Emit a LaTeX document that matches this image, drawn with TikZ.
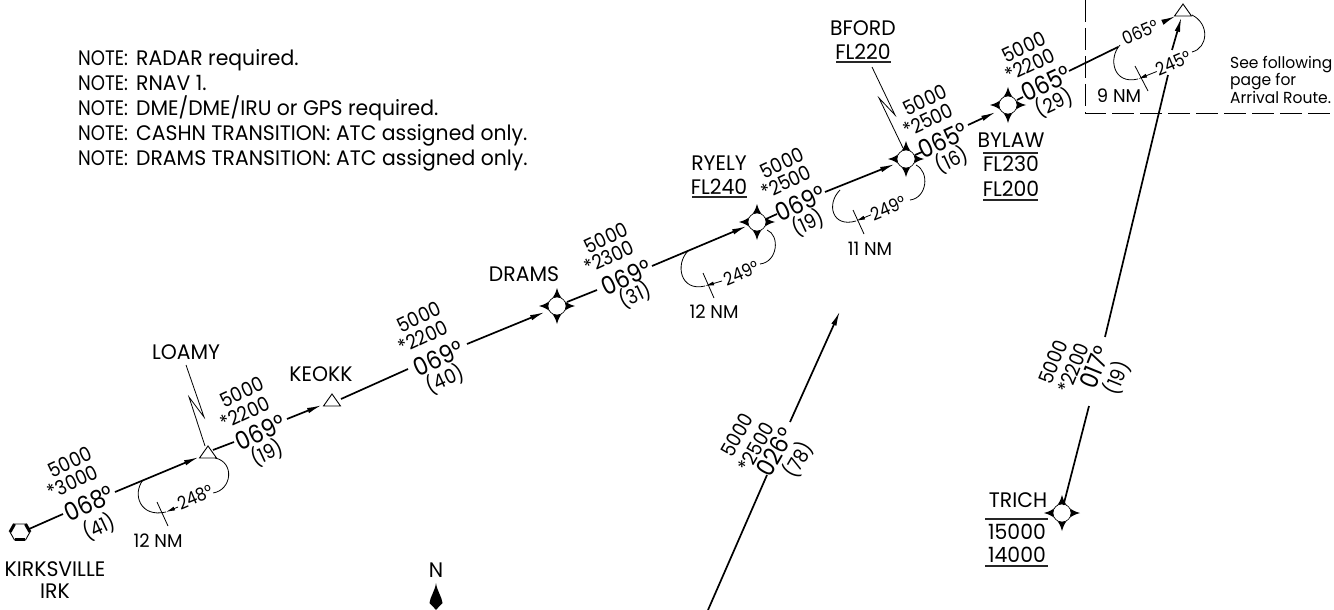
\documentclass[tikz,border=0pt]{standalone}
\usepackage{fontspec}
\setmainfont{Poppins}[FakeStretch=0.97]
\newfontfamily\digitfont{Poppins}[FakeStretch=0.9]
\newfontfamily\notefont{Poppins}[FakeStretch=0.86]
\usetikzlibrary{arrows.meta,calc}
\tikzset{
  route/.style={line width=1.7pt,line cap=butt},
  routearrow/.style={route,-{Latex[length=15pt,width=5.5pt]}},
  thinline/.style={line width=0.8pt},
  holdarrow/.style={thinline,-{Latex[length=9pt,width=4pt]}},
  lab/.style={inner sep=0pt,font=\fontsize{21}{24}\selectfont,align=center},
  alt/.style={inner sep=0pt,font=\digitfont\fontsize{20}{22}\selectfont},
  bigalt/.style={inner sep=0pt,font=\digitfont\fontsize{25}{27}\selectfont},
  small/.style={inner sep=0pt,font=\digitfont\fontsize{18}{20}\selectfont},
  dist/.style={inner sep=0pt,font=\fontsize{18.5}{20}\selectfont},
  rule/.style={line width=1.2pt,black!85},
  fixdot/.style={circle,draw,line width=0.6pt,fill=white,minimum size=18pt,inner sep=0pt},
  tri/.style={line width=0.9pt,draw,fill=white,line join=miter},
}
\newcommand\fixstar[3]{%
  \begin{scope}[shift={(#2,#3)}]
  \fill[black] (0,-18) .. controls (2.5,-8) and (8,-2.5) .. (18,0)
     .. controls (8,2.5) and (2.5,8) .. (0,18)
     .. controls (-2.5,8) and (-8,2.5) .. (-18,0)
     .. controls (-8,-2.5) and (-2.5,-8) .. (0,-18) -- cycle;
  \end{scope}
  \node[fixdot] (#1) at (#2,#3) {};
}
\newcommand\trifix[3]{%
  \coordinate (#1) at (#2,#3);
  \draw[tri] (#2,#3) ++(0,-12) -- ++(8.5,12) -- ++(-17,0) -- cycle;
}
\newcommand\altblock[9]{%
  \node[alt,rotate=#9] (#1a) at (#2) {5000};
  \node[alt,rotate=#9] (#1b) at (#3) {*#4};
  \node[bigalt,rotate=#9] (#1c) at (#5) {#6};
  \node[alt,rotate=#9] (#1d) at (#7) {(#8)};
}
\begin{document}
\begin{tikzpicture}[x=1pt,y=-1pt]
\useasboundingbox[fill=white] (0,0) rectangle (1334,610);

% fixes
\trifix{loamy}{208}{458}
\trifix{keokk}{332}{406}
\trifix{apex}{1183}{16}
\fixstar{drams}{557}{306}
\fixstar{ryely}{757}{222}
\fixstar{bford}{906}{159}
\fixstar{bylaw}{1008}{105}
\fixstar{trich}{1062}{513}

% Kirksville hexagon
\coordinate (irk) at (20,532);
\draw[line width=0.9pt] (irk) ++(-10,0) -- ++(4.5,-8) -- ++(11,0) -- ++(4.5,8) -- ++(-4.5,8) -- ++(-11,0) -- cycle;
\draw[line width=3pt] (irk) ++(-5.5,-8) -- ++(-4.5,8);
\draw[line width=3pt] (irk) ++(5.5,-8) -- ++(4.5,8);
\fill[black] (irk) ++(-5,6) rectangle ++(10,3);

% route waypoints
\coordinate (p1) at (29,529); \coordinate (p2) at (63,514);
\coordinate (p3) at (115,492); \coordinate (p4) at (199,457);
\coordinate (p5) at (213,450); \coordinate (p6) at (234,442);
\coordinate (p7) at (287,419); \coordinate (p8) at (322,405);
\coordinate (p9) at (341,399); \coordinate (p10) at (408,369);
\coordinate (p11) at (467,344); \coordinate (p12) at (545,312);
\coordinate (p13) at (567,302); \coordinate (p14) at (597,290);
\coordinate (p15) at (652,266); \coordinate (p16) at (747,226);
\coordinate (p17) at (766,219); \coordinate (p18) at (777,214);
\coordinate (p19) at (825,192); \coordinate (p20) at (895,164);
\coordinate (p21) at (915,155); \coordinate (p22) at (922,152);
\coordinate (p23) at (968,125); \coordinate (p24) at (996,112);
\coordinate (p25) at (1017,100); \coordinate (p26) at (1023,97);
\coordinate (p27) at (1069,71); \coordinate (p28) at (1118,47);
\coordinate (p29) at (1163,22); \coordinate (p30) at (1176,16);
\draw[route] (p1) -- (p2);
\draw[routearrow] (p3) -- (p4);
\draw[route] (p5) -- (p6);
\draw[routearrow] (p7) -- (p8);
\draw[route] (p9) -- (p10);
\draw[routearrow] (p11) -- (p12);
\draw[route] (p13) -- (p14);
\draw[routearrow] (p15) -- (p16);
\draw[route] (p17) -- (p18);
\draw[routearrow] (p19) -- (p20);
\draw[route] (p21) -- (p22);
\draw[routearrow] (p23) -- (p24);
\draw[route] (p25) -- (p26);
\draw[route] (p27) -- (p28);
\draw[routearrow] (p29) -- (p30);

% TRICH leg
\coordinate (t0) at (1063.5,505); \coordinate (t1) at (1089,406); \coordinate (t2) at (1105,337);
\coordinate (t3) at (1168,75); \coordinate (t4) at (1172,50); \coordinate (t5) at (1181.5,17);
\draw[route] (t0) -- (t1);
\draw[route] (t2) -- (t3);
\draw[routearrow] (t4) -- (t5);

% 026 leg
\coordinate (u1) at (708,610); \coordinate (u2) at (767,475);
\coordinate (u3) at (790,422); \coordinate (u4) at (840,311);
\draw[route] (u1) -- (u2);
\draw[routearrow] (u3) -- (u4);

% dashed boundary
\coordinate (d1) at (1085,0); \coordinate (d2) at (1085,113); \coordinate (d3) at (1334,113);
\draw[line width=0.9pt,dash pattern=on 22pt off 6pt] (d1) -- (d2) -- (d3);

% Holds
\draw[holdarrow] (178,507) -- (166,512);
\draw[thinline] (143,480) .. controls (132,494) and (140,518) .. (166,512);
\draw[thinline] (157,502) -- (168,526);
\draw[thinline] (213,493) .. controls (232,490) and (235,462) .. (215,458);
\draw[holdarrow] (722,281) -- (705,286);
\draw[thinline] (688,251) .. controls (675,264) and (680,292) .. (705,286);
\draw[thinline] (703,273) -- (714,298);
\draw[thinline] (760,264) .. controls (778,262) and (780,235) .. (767,230);
\draw[holdarrow] (873,214) -- (856,221);
\draw[thinline] (840,190) .. controls (826,204) and (832,228) .. (856,221);
\draw[thinline] (853,210) -- (864,234);
\draw[thinline] (910,200) .. controls (927,198) and (930,172) .. (916,165);
\draw[holdarrow] (1158,71) -- (1138,79);
\draw[thinline] (1120,45) .. controls (1108,58) and (1113,85) .. (1138,79);
\draw[thinline] (1135,66) -- (1148,91);
\draw[thinline] (1192,52) .. controls (1208,48) and (1210,24) .. (1192,15);

% Leaders
\draw[thinline] (186,365) -- (204,417) -- (189,397) -- (205,446);
\draw[thinline] (872,67) -- (895,115) -- (879,98) -- (903,148);

% Hold labels
\node[small,fill=white,rotate=23] (hl1) at (195,497) {248°};
\node[dist] (hd1) at (158,541) {12 NM};
\node[small,fill=white,rotate=23] (hl2) at (741,273) {249°};
\node[dist] (hd2) at (714,312) {12 NM};
\node[small,fill=white,rotate=23] (hl3) at (888,208) {249°};
\node[dist] (hd3) at (870,249) {11 NM};
\node[small,fill=white,rotate=23] (hl4) at (1173,63) {245°};
\node[dist] (hd4) at (1119,96) {9 NM};
\node[small,fill=white,rotate=23] (hc4) at (1140,32) {065°};

% Altitude blocks
\altblock{a1}{70,462}{73,482}{3000}{89,503}{068°}{99,527}{41}{25}
\altblock{a2}{242,392}{245,413}{2200}{260,432}{069°}{267,453}{19}{25}
\altblock{a3}{419,317}{423,337}{2200}{438,358}{069°}{445,379}{40}{25}
\altblock{a4}{606,238}{609,257}{2300}{626,277}{069°}{635,295}{31}{25}
\altblock{a5}{782,163}{786,182}{2500}{800,203}{069°}{808,223}{19}{25}
\altblock{a6}{925,100}{928,120}{2500}{943,140}{065°}{952,160}{16}{25}
\altblock{a7}{1024,47}{1030,65}{2200}{1046,83}{065°}{1054,103}{29}{25}
\altblock{a8}{1053,362}{1073,368}{2200}{1095,367}{017°}{1117,378}{19}{68}
\altblock{a9}{737,435}{756,447}{2500}{775,452}{026°}{798,460}{78}{60}

% Labels
\node[lab] (lLOAMY) at (186,352) {LOAMY};
\node[lab] (lKEOKK) at (321,374) {KEOKK};
\node[lab] (lDRAMS) at (524,274) {DRAMS};
\node[lab] (lRYELY) at (719,163) {RYELY};
\node[lab] (lFL240) at (719,187) {FL240};
\draw[rule] (692,197) -- (747,197);
\node[lab] (lBFORD) at (863,28) {BFORD};
\node[lab] (lFL220) at (863,52) {FL220};
\draw[rule] (836,62) -- (891,62);
\node[lab] (lBYLAW) at (1011,140) {BYLAW};
\draw[rule] (983,153) -- (1038,153);
\node[lab] (lFL230) at (1011,164) {FL230};
\node[lab] (lFL200) at (1011,189) {FL200};
\draw[rule] (983,200) -- (1038,200);
\node[lab] (lTRICH) at (1018,500) {TRICH};
\draw[rule] (985,519) -- (1048,519);
\node[lab] (l15000) at (1017,532) {15000};
\node[lab] (l14000) at (1017,555) {14000};
\draw[rule] (985,566) -- (1048,566);
\node[lab] (lKIRK) at (55,569) {KIRKSVILLE};
\node[lab] (lIRK) at (55,591) {IRK};
\node[lab] (lN) at (436,570) {N};
\coordinate (north) at (436,583);
\begin{scope}[shift={(north)}]
\fill[black] (0,0) .. controls (1,8) and (6,14) .. (6.5,20) .. controls (5,22) and (2,24) .. (0,27)
   .. controls (-2,24) and (-5,22) .. (-6.5,20) .. controls (-6,14) and (-1,8) .. (0,0) -- cycle;
\end{scope}

\node[anchor=north west,inner sep=0pt,align=left,font=\fontsize{21}{25}\selectfont] (notes) at (78,49) {%
\makebox[58pt][l]{\notefont NOTE:}RADAR required.\\
\makebox[58pt][l]{\notefont NOTE:}RNAV 1.\\
\makebox[58pt][l]{\notefont NOTE:}DME/DME/IRU or GPS required.\\
\makebox[58pt][l]{\notefont NOTE:}CASHN TRANSITION: ATC assigned only.\\
\makebox[58pt][l]{\notefont NOTE:}DRAMS TRANSITION: ATC assigned only.};
\node[anchor=north west,inner sep=0pt,align=left,font=\fontsize{16}{17.5}\selectfont] (see) at (1230,56) {See following\\page for\\Arrival Route.};
\end{tikzpicture}
\end{document}
